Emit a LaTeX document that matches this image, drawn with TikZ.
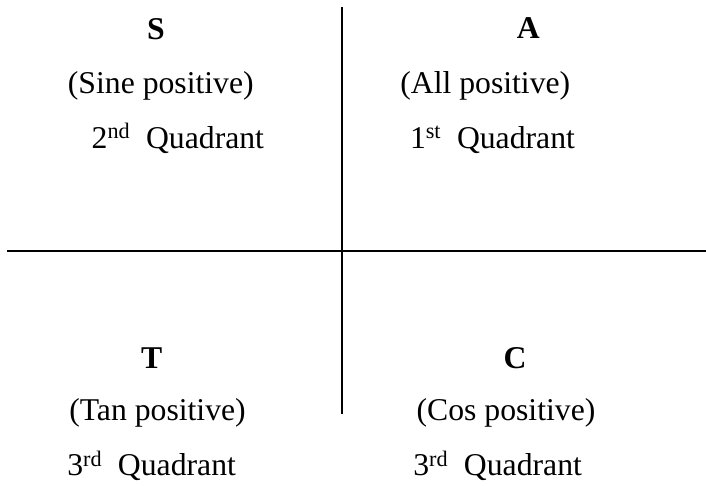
\documentclass[tikz,border=0pt]{standalone}
\usepackage{fontspec}
\setmainfont{Liberation Serif}
\begin{document}
\begin{tikzpicture}[x=1pt,y=-1pt,
  lbl/.style={inner sep=0pt,outer sep=0pt,font=\fontsize{31.7}{38}\selectfont},
  head/.style={lbl,font=\fontsize{31.7}{38}\selectfont\bfseries,anchor=base},
  axis/.style={line width=2pt,black}]
\useasboundingbox (0,0) rectangle (706,485);
% axes
\coordinate (vtop) at (341.5,7);
\coordinate (vbot) at (341.5,414);
\coordinate (hl) at (7,250.7);
\coordinate (hr) at (706,250.7);
\draw[axis] (vtop) -- (vbot);
\draw[axis] (hl) -- (hr);
% 2nd quadrant
\node[head] (S) at (156,39) {S};
\node[lbl,anchor=base] (Sp) at (160.8,93) {(Sine positive)};
\node[lbl,anchor=base west] (Sq) at (91.7,148) {2\textsuperscript{nd}\ \ Quadrant};
% 1st quadrant
\node[head] (A) at (528.3,38.5) {A};
\node[lbl,anchor=base] (Ap) at (485.3,93) {(All positive)};
\node[lbl,anchor=base west] (Aq) at (410,148) {1\textsuperscript{st}\ \ Quadrant};
% 3rd quadrant
\node[head] (T) at (151.7,368) {T};
\node[lbl,anchor=base] (Tp) at (157.5,420) {(Tan positive)};
\node[lbl,anchor=base west] (Tq) at (67.3,475.5) {3\textsuperscript{rd}\ \ Quadrant};
% 4th quadrant
\node[head] (C) at (515,368) {C};
\node[lbl,anchor=base] (Cp) at (506,420) {(Cos positive)};
\node[lbl,anchor=base west] (Cq) at (413.3,475.5) {3\textsuperscript{rd}\ \ Quadrant};
\end{tikzpicture}
\end{document}
